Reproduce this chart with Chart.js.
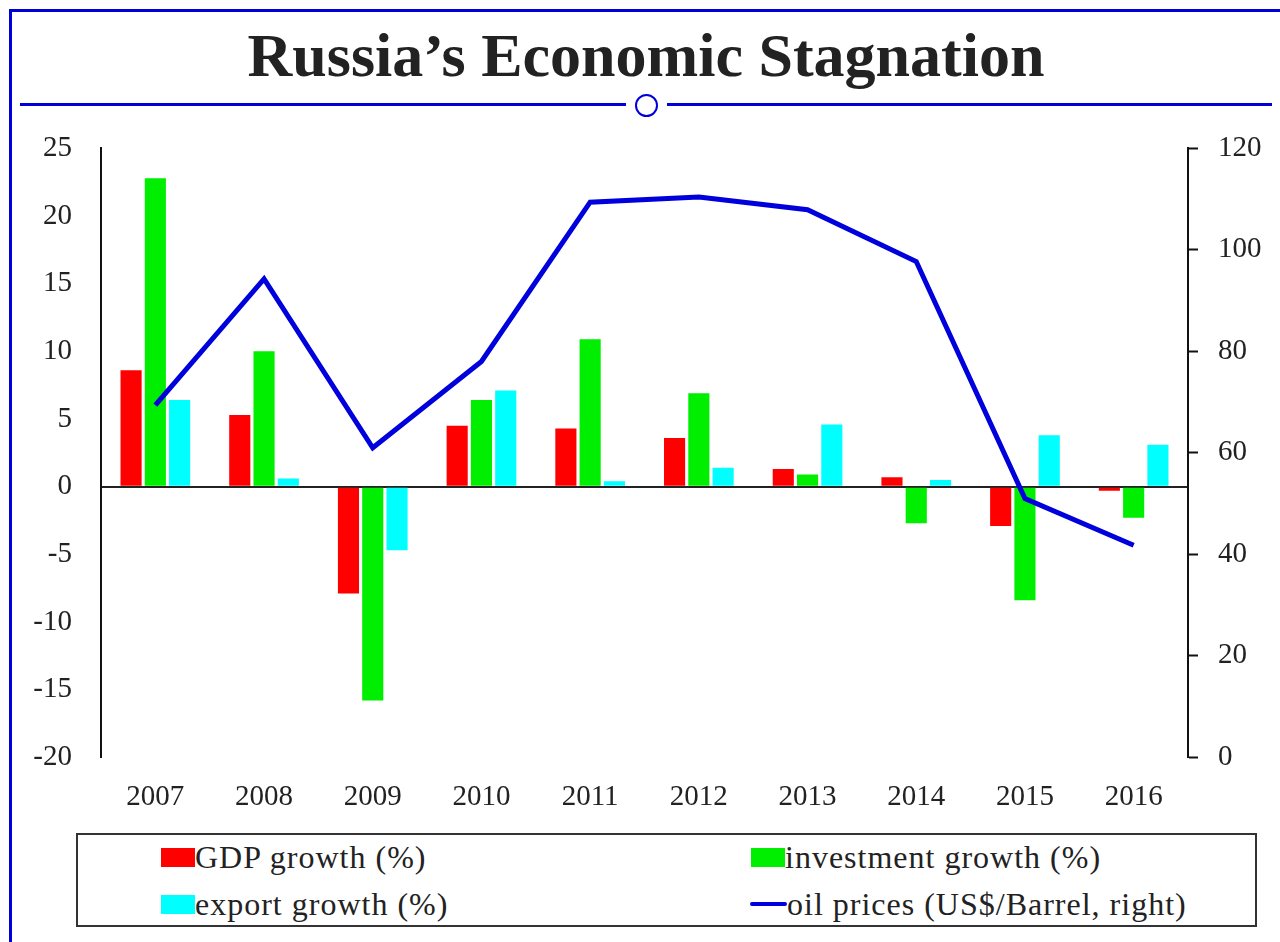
<!DOCTYPE html>
<html><head><meta charset="utf-8">
<script src="https://cdn.jsdelivr.net/npm/chart.js@4"></script>
<style>
html,body{margin:0;padding:0;background:#fff;width:1280px;height:942px;overflow:hidden;position:relative;font-family:"Liberation Serif",serif;color:#222}
.bt{position:absolute;left:9px;top:9px;width:1271px;height:3px;background:#0000d8}
.bl{position:absolute;left:9px;top:9px;width:3px;height:933px;background:#0000d8}
#title{position:absolute;left:0;width:1292px;top:24px;text-align:center;font-weight:bold;font-size:62px;line-height:62px;color:#222}
.sep{position:absolute;top:103px;height:3px;background:#0000d8}
.circ{position:absolute;left:635px;top:93.5px;width:23px;height:23px;box-sizing:border-box;border:2.5px solid #0000d8;border-radius:50%;background:#fff}
#wrap{position:absolute;left:0;top:101.7px;width:1280px;height:718.3px}
#legendBox{position:absolute;left:76px;top:833px;width:1181px;height:94px;box-sizing:border-box;border:2px solid #333}
.item{position:absolute;height:30px;display:flex;align-items:center;font-size:32px;letter-spacing:1px;white-space:nowrap;color:#222}
.sw{width:34px;height:19px;flex:none}
.ln{width:37px;height:4px;flex:none;border-radius:2px}
</style></head>
<body>
<div class="bt"></div><div class="bl"></div>
<div id="title">Russia’s Economic Stagnation</div>
<div class="sep" style="left:20px;width:606px"></div>
<div class="sep" style="left:667px;width:605px"></div>
<div class="circ"></div>
<div id="wrap"><canvas id="c"></canvas></div>
<div id="legendBox"></div>
<div id="legend"></div>
<script>
const years = ['2007','2008','2009','2010','2011','2012','2013','2014','2015','2016'];
const gdpGrowth = [8.6, 5.3, -7.9, 4.5, 4.3, 3.6, 1.3, 0.7, -2.9, -0.3];
const investmentGrowth = [22.8, 10.0, -15.8, 6.4, 10.9, 6.9, 0.9, -2.7, -8.4, -2.3];
const exportGrowth = [6.4, 0.6, -4.7, 7.1, 0.4, 1.4, 4.6, 0.5, 3.8, 3.1];
const oilPrices = [69.4, 94.3, 61.0, 78.0, 109.4, 110.4, 107.9, 97.7, 51.0, 41.8];
const seriesLabels = ['GDP growth (%)', 'investment growth (%)', 'export growth (%)', 'oil prices (US$/Barrel, right)'];
const seriesColors = ['#ff0000', '#00ee00', '#00ffff', '#0000dd'];
const leftTicks = [-20, -15, -10, -5, 0, 5, 10, 15, 20, 25];
const rightTicks = [0, 20, 40, 60, 80, 100, 120];

const tickFont = {family: '"Liberation Serif", serif', size: 29};
const barCommon = {yAxisID: 'y', order: 1, categoryPercentage: 0.67, barPercentage: 0.87, borderWidth: 0};

new Chart(document.getElementById('c'), {
  type: 'bar',
  data: {
    labels: years,
    datasets: [
      Object.assign({label: seriesLabels[0], data: gdpGrowth, backgroundColor: seriesColors[0]}, barCommon),
      Object.assign({label: seriesLabels[1], data: investmentGrowth, backgroundColor: seriesColors[1]}, barCommon),
      Object.assign({label: seriesLabels[2], data: exportGrowth, backgroundColor: seriesColors[2]}, barCommon),
      {type: 'line', label: seriesLabels[3], data: oilPrices, yAxisID: 'y1', order: 0,
       borderColor: seriesColors[3], borderWidth: 5, pointRadius: 0, tension: 0, fill: false, borderJoinStyle: 'miter'}
    ]
  },
  options: {
    responsive: true, maintainAspectRatio: false, animation: false,
    layout: {padding: {top: 26.7, left: 0, right: 0, bottom: 0}},
    plugins: {legend: {display: false}, tooltip: {enabled: false}},
    scales: {
      x: {
        grid: {display: false, drawTicks: false},
        border: {display: false},
        ticks: {font: tickFont, color: '#222', padding: 23},
        afterFit: s => { s.height = 63; }
      },
      y: {
        position: 'left', min: leftTicks[0], max: leftTicks[leftTicks.length - 1],
        afterBuildTicks: s => { s.ticks = leftTicks.map(v => ({value: v})); },
        grid: {drawTicks: false, lineWidth: 2, color: c => (c.tick && c.tick.value === 0) ? '#222' : 'rgba(0,0,0,0)'},
        border: {color: '#111', width: 2},
        ticks: {font: tickFont, color: '#222', padding: 29},
        afterFit: s => { s.width = 101; }
      },
      y1: {
        position: 'right', min: rightTicks[0], max: rightTicks[rightTicks.length - 1],
        afterBuildTicks: s => { s.ticks = rightTicks.map(v => ({value: v})); },
        grid: {drawOnChartArea: false, drawTicks: true, tickLength: 10, tickColor: '#111', tickWidth: 2, color: '#111'},
        border: {color: '#111', width: 2},
        ticks: {font: tickFont, color: '#222', padding: 20},
        afterFit: s => { s.width = 92; }
      }
    }
  }
});

// HTML legend built from series labels/colors
const legendPos = [[161, 842], [751, 842], [161, 889], [750, 889]];
const lg = document.getElementById('legend');
seriesLabels.forEach((lab, i) => {
  const d = document.createElement('div');
  d.className = 'item';
  d.style.left = legendPos[i][0] + 'px';
  d.style.top = legendPos[i][1] + 'px';
  const sw = document.createElement('span');
  sw.className = i === 3 ? 'ln' : 'sw';
  sw.style.background = seriesColors[i];
  const t = document.createElement('span');
  t.textContent = lab;
  d.appendChild(sw); d.appendChild(t);
  lg.appendChild(d);
});
</script>
</body></html>
